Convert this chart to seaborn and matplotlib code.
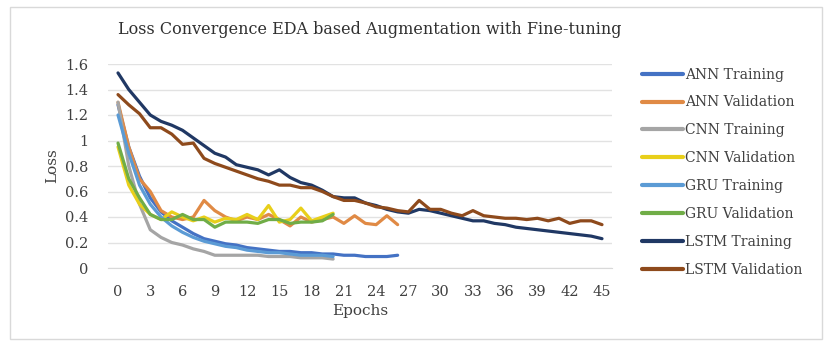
import pandas as pd
import matplotlib
matplotlib.use("Agg")
import matplotlib.pyplot as plt
import seaborn as sns
from matplotlib.patches import Rectangle

# Valores (loss por época)
ann_train = [1.28, 0.95, 0.72, 0.55, 0.44, 0.37, 0.32, 0.27, 0.23, 0.21, 0.19, 0.18, 0.16, 0.15,
             0.14, 0.13, 0.13, 0.12, 0.12, 0.11, 0.11, 0.10, 0.10, 0.09, 0.09, 0.09, 0.10]
ann_val = [1.30, 0.95, 0.70, 0.60, 0.45, 0.40, 0.38, 0.40, 0.53, 0.45, 0.40, 0.37, 0.40, 0.38,
           0.42, 0.38, 0.33, 0.40, 0.36, 0.38, 0.40, 0.35, 0.41, 0.35, 0.34, 0.41, 0.34]
cnn_train = [1.30, 0.80, 0.50, 0.30, 0.24, 0.20, 0.18, 0.15, 0.13, 0.10, 0.10, 0.10, 0.10, 0.10,
             0.09, 0.09, 0.09, 0.08, 0.08, 0.08, 0.07]
cnn_val = [0.95, 0.65, 0.50, 0.42, 0.38, 0.44, 0.40, 0.37, 0.40, 0.36, 0.39, 0.38, 0.42, 0.38,
           0.49, 0.36, 0.38, 0.47, 0.37, 0.40, 0.43]
gru_train = [1.20, 0.90, 0.65, 0.50, 0.40, 0.33, 0.28, 0.24, 0.21, 0.19, 0.17, 0.16, 0.14, 0.13,
             0.12, 0.12, 0.11, 0.10, 0.10, 0.10, 0.09]
gru_val = [0.98, 0.70, 0.55, 0.42, 0.38, 0.38, 0.42, 0.38, 0.38, 0.32, 0.36, 0.36, 0.36, 0.35,
           0.38, 0.38, 0.35, 0.36, 0.36, 0.37, 0.42]
lstm_train = [1.53, 1.40, 1.30, 1.20, 1.15, 1.12, 1.08, 1.02, 0.96, 0.90, 0.87, 0.81, 0.79, 0.77,
              0.73, 0.77, 0.71, 0.67, 0.65, 0.61, 0.56, 0.55, 0.55, 0.51, 0.49, 0.46, 0.44, 0.43,
              0.46, 0.45, 0.43, 0.41, 0.39, 0.37, 0.37, 0.35, 0.34, 0.32, 0.31, 0.30, 0.29, 0.28,
              0.27, 0.26, 0.25, 0.23]
lstm_val = [1.36, 1.28, 1.21, 1.10, 1.10, 1.05, 0.97, 0.98, 0.86, 0.82, 0.79, 0.76, 0.73, 0.70,
            0.68, 0.65, 0.65, 0.63, 0.63, 0.60, 0.56, 0.53, 0.53, 0.51, 0.48, 0.47, 0.45, 0.44,
            0.53, 0.46, 0.46, 0.43, 0.41, 0.45, 0.41, 0.40, 0.39, 0.39, 0.38, 0.39, 0.37, 0.39,
            0.35, 0.37, 0.37, 0.34]

series = {
    "ANN Training": ann_train,
    "ANN Validation": ann_val,
    "CNN Training": cnn_train,
    "CNN Validation": cnn_val,
    "GRU Training": gru_train,
    "GRU Validation": gru_val,
    "LSTM Training": lstm_train,
    "LSTM Validation": lstm_val,
}
cores = ["#4472C4", "#E08A45", "#A5A5A5", "#E8CF1A",
         "#5B9BD5", "#70AD47", "#203864", "#8E4A1C"]

linhas = []
for nome, vals in series.items():
    for ep, v in enumerate(vals):
        linhas.append({"Epochs": ep, "Loss": v, "serie": nome})
df = pd.DataFrame(linhas)

sns.set_style("white")
plt.rcParams["font.family"] = ["DejaVu Serif"]

fig = plt.figure(figsize=(8.31, 3.45), dpi=100)
ax = fig.add_axes([108 / 831, 1 - 268 / 345, 504 / 831, 204 / 345])

sns.lineplot(data=df, x="Epochs", y="Loss", hue="serie", palette=cores,
             hue_order=list(series.keys()), linewidth=2.3, ax=ax, legend=False)

ax.set_xlim(-0.93, 45.93)
ax.set_ylim(0, 1.6)
ax.set_yticks([0, 0.2, 0.4, 0.6, 0.8, 1.0, 1.2, 1.4, 1.6])
ax.set_yticklabels(["0", "0.2", "0.4", "0.6", "0.8", "1", "1.2", "1.4", "1.6"])
ax.set_xticks(range(0, 46, 3))
ax.set_xticks(range(0, 46), minor=True)
ax.tick_params(axis="x", which="major", length=0, pad=12, labelsize=10.5, colors="#404040")
ax.tick_params(axis="x", which="minor", length=3, color="#D9D9D9", direction="inout")
ax.tick_params(axis="y", length=0, pad=14, labelsize=10.5, colors="#404040")
ax.grid(axis="y", color="#E2E2E2", linewidth=1)
for lado in ["top", "right", "left"]:
    ax.spines[lado].set_visible(False)
ax.spines["bottom"].set_color("#D9D9D9")
ax.set_xlabel("Epochs", fontsize=11, color="#404040", labelpad=4)
ax.set_ylabel("Loss", fontsize=11, color="#404040", labelpad=4)

fig.suptitle("Loss Convergence EDA based Augmentation with Fine-tuning",
             x=370 / 831, y=1 - 30 / 345, va="center", fontsize=11.5, color="#303030")

handles = [plt.Line2D([], [], color=c, linewidth=3) for c in cores]
fig.legend(handles, list(series.keys()), loc="upper left",
           bbox_to_anchor=(636 / 831, 1 - 62 / 345), frameon=False,
           handlelength=3.0, handletextpad=0.15, labelspacing=1.0,
           fontsize=10, labelcolor="#404040", borderaxespad=0)

fig.patches.append(Rectangle((10 / 831, 6 / 345), 812 / 831, 332 / 345,
                             transform=fig.transFigure, fill=False,
                             edgecolor="#D9D9D9", linewidth=1))

fig.savefig("out.png", dpi=100)
